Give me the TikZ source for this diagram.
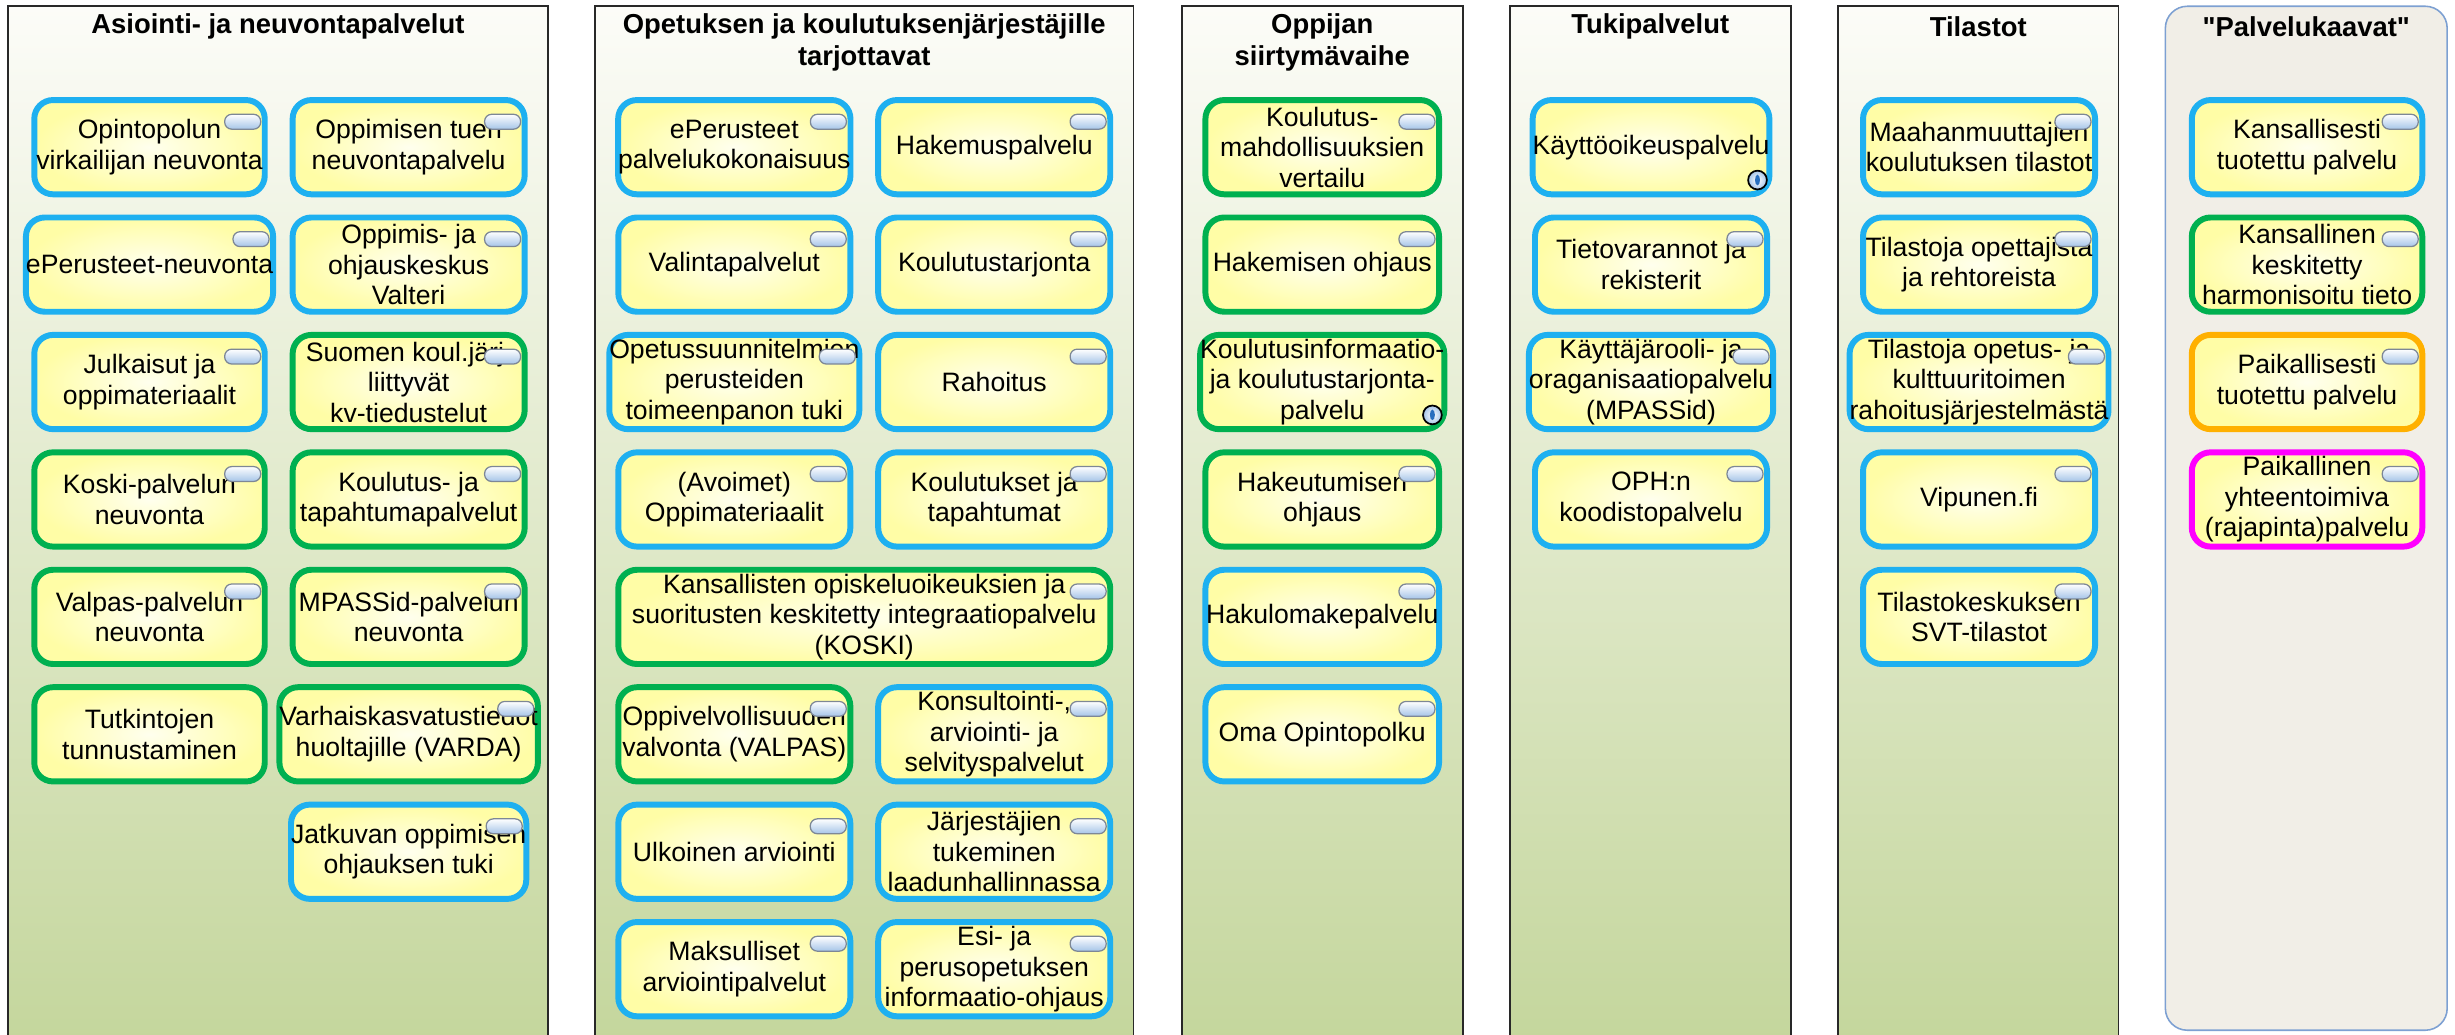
\documentclass[tikz,border=0pt]{standalone}
\usepackage{fontspec}
\setmainfont{Liberation Sans}
\newfontfamily\nolig{Liberation Sans}[Ligatures=TeXOff]
\definecolor{cblue}{RGB}{30,176,240}
\definecolor{cgreen}{RGB}{0,176,80}
\definecolor{corange}{RGB}{255,176,0}
\definecolor{cmag}{RGB}{255,0,255}
\definecolor{boxin}{RGB}{255,255,238}
\definecolor{boxout}{RGB}{255,253,166}
\definecolor{paneltop}{RGB}{252,252,248}
\definecolor{panelbot}{RGB}{196,214,156}
\definecolor{panelline}{RGB}{40,40,40}
\definecolor{legfill}{RGB}{241,238,231}
\definecolor{legline}{RGB}{125,160,210}
\definecolor{pillline}{RGB}{125,135,150}
\definecolor{pillbot}{RGB}{165,196,232}
\definecolor{infoblue}{RGB}{40,110,190}
\tikzset{
  panel/.style={draw=panelline, line width=1.1pt, top color=paneltop, bottom color=panelbot},
  legendpanel/.style={draw=legline, line width=1pt, fill=legfill, rounded corners=14pt},
  paneltitle/.style={font=\fontsize{17.5}{20.5}\selectfont\bfseries, align=center, inner sep=0pt},
  svc/.style={rounded corners=12pt, line width=3.8pt, inner sep=0pt, align=center,
    font=\fontsize{17}{19.5}\selectfont, inner color=boxin, outer color=boxout},
  pillst/.style={draw=pillline, line width=0.8pt, rounded corners=4.5pt, top color=white, bottom color=pillbot},
  infost/.style={draw=black, line width=1.1pt, inner color=white, outer color=pillbot}
}
% name, centre x, top y, width, colour, text
\newcommand\svc[6]{\node[svc, draw=#5, minimum width=#4pt-3.8pt, minimum height=60.2pt] (#1) at (#2,#3+32) {#6};}
\newcommand\pill[1]{\draw[pillst] ([xshift=-27.5pt,yshift=-11pt]#1.north east) rectangle ++(23,9.5);}
\newcommand\info[1]{\draw[infost] ([xshift=-9.5pt,yshift=11pt]#1.south east) circle (6pt);
  \fill[infoblue] ([xshift=-9.5pt,yshift=11pt]#1.south east) ellipse (1.6pt and 3.4pt);}
\begin{document}
\begin{tikzpicture}[x=1pt,y=-1pt]
\useasboundingbox (0,0) rectangle (1568,661);
\clip (0,0) rectangle (1568,661);
\fill[white] (0,0) rectangle (1568,661);
% panels
\draw[panel] (5,4) rectangle (350,668);
\draw[panel] (380,4) rectangle (724,668);
\draw[panel] (755,4) rectangle (934.5,668);
\draw[panel] (964.5,4) rectangle (1144,668);
\draw[panel] (1174,4) rectangle (1353,668);
\draw[legendpanel] (1383,4) rectangle (1563,658);
% titles
\node[paneltitle] (t1) at (177.5,17) {Asiointi- ja neuvontapalvelut};
\node[paneltitle] (t2) at (552,27) {Opetuksen ja koulutuksenjärjestäjille\\tarjottavat};
\node[paneltitle] (t3) at (844.5,27) {Oppijan\\siirtymävaihe};
\node[paneltitle] (t4) at (1054,17) {Tukipalvelut};
\node[paneltitle] (t5) at (1263.5,17) {Tilastot};
\node[paneltitle] (t6) at (1473,17) {\nolig "Palvelukaavat"};
% panel 1
\svc{aa1}{95.5}{62}{151}{cblue}{Opintopolun\\virkailijan neuvonta}
\svc{ab1}{261}{62}{152}{cblue}{Oppimisen tuen\\neuvontapalvelu}
\svc{aa2}{95.5}{137}{151}{cblue}{ePerusteet-neuvonta}
\svc{ab2}{261}{137}{152}{cblue}{Oppimis- ja\\ohjauskeskus\\Valteri}
\svc{aa3}{95.5}{212}{151}{cblue}{Julkaisut ja\\oppimateriaalit}
\svc{ab3}{261}{212}{152}{cgreen}{Suomen koul.järj.\\liittyvät\\kv-tiedustelut}
\svc{aa4}{95.5}{287}{151}{cgreen}{Koski-palvelun\\neuvonta}
\svc{ab4}{261}{287}{152}{cgreen}{Koulutus- ja\\tapahtumapalvelut}
\svc{aa5}{95.5}{362}{151}{cgreen}{Valpas-palvelun\\neuvonta}
\svc{ab5}{261}{362}{152}{cgreen}{MPASSid-palvelun\\neuvonta}
\svc{aa6}{95.5}{437}{151}{cgreen}{Tutkintojen\\tunnustaminen}
\svc{ab6}{261}{437}{152}{cgreen}{Varhaiskasvatustiedot\\huoltajille (VARDA)}
\svc{ab7}{261}{512}{152}{cblue}{Jatkuvan oppimisen\\ohjauksen tuki}
\pill{aa1}\pill{ab1}\pill{aa2}\pill{ab2}\pill{aa3}\pill{ab3}\pill{aa4}\pill{ab4}
\pill{aa5}\pill{ab5}\pill{ab6}\pill{ab7}
% panel 2
\svc{ba1}{469}{62}{152}{cblue}{ePerusteet\\palvelukokonaisuus}
\svc{bb1}{635}{62}{152}{cblue}{Hakemuspalvelu}
\svc{ba2}{469}{137}{152}{cblue}{Valintapalvelut}
\svc{bb2}{635}{137}{152}{cblue}{Koulutustarjonta}
\svc{ba3}{469}{212}{152}{cblue}{Opetussuunnitelmien\\perusteiden\\toimeenpanon tuki}
\svc{bb3}{635}{212}{152}{cblue}{Rahoitus}
\svc{ba4}{469}{287}{152}{cblue}{(Avoimet)\\Oppimateriaalit}
\svc{bb4}{635}{287}{152}{cblue}{Koulutukset ja\\tapahtumat}
\svc{bw5}{552}{362}{318}{cgreen}{Kansallisten opiskeluoikeuksien ja\\suoritusten keskitetty integraatiopalvelu\\(KOSKI)}
\svc{ba6}{469}{437}{152}{cgreen}{Oppivelvollisuuden\\valvonta (VALPAS)}
\svc{bb6}{635}{437}{152}{cblue}{Konsultointi-,\\arviointi- ja\\selvityspalvelut}
\svc{ba7}{469}{512}{152}{cblue}{Ulkoinen arviointi}
\svc{bb7}{635}{512}{152}{cblue}{Järjestäjien\\tukeminen\\laadunhallinnassa}
\svc{ba8}{469}{587}{152}{cblue}{Maksulliset\\arviointipalvelut}
\svc{bb8}{635}{587}{152}{cblue}{Esi- ja\\perusopetuksen\\informaatio-ohjaus}
\pill{ba1}\pill{bb1}\pill{ba2}\pill{bb2}\pill{ba3}\pill{bb3}\pill{ba4}\pill{bb4}
\pill{bw5}\pill{ba6}\pill{bb6}\pill{ba7}\pill{bb7}\pill{ba8}\pill{bb8}
% panel 3
\svc{c1}{844.5}{62}{153}{cgreen}{Koulutus-\\mahdollisuuksien\\vertailu}
\svc{c2}{844.5}{137}{153}{cgreen}{Hakemisen ohjaus}
\svc{c3}{844.5}{212}{153}{cgreen}{Koulutusinformaatio-\\ja koulutustarjonta-\\palvelu}
\svc{c4}{844.5}{287}{153}{cgreen}{Hakeutumisen\\ohjaus}
\svc{c5}{844.5}{362}{153}{cblue}{Hakulomakepalvelu}
\svc{c6}{844.5}{437}{153}{cblue}{Oma Opintopolku}
\pill{c1}\pill{c2}\info{c3}\pill{c4}\pill{c5}\pill{c6}
% panel 4
\svc{d1}{1054.5}{62}{152}{cblue}{Käyttöoikeuspalvelu}
\svc{d2}{1054.5}{137}{152}{cblue}{Tietovarannot ja\\rekisterit}
\svc{d3}{1054.5}{212}{152}{cblue}{Käyttäjärooli- ja\\oraganisaatiopalvelu\\(MPASSid)}
\svc{d4}{1054.5}{287}{152}{cblue}{OPH:n\\koodistopalvelu}
\info{d1}\pill{d2}\pill{d3}\pill{d4}
% panel 5
\svc{e1}{1264}{62}{152}{cblue}{Maahanmuuttajien\\koulutuksen tilastot}
\svc{e2}{1264}{137}{152}{cblue}{Tilastoja opettajista\\ja rehtoreista}
\svc{e3}{1264}{212}{152}{cblue}{Tilastoja opetus- ja\\kulttuuritoimen\\rahoitusjärjestelmästä}
\svc{e4}{1264}{287}{152}{cblue}{Vipunen.fi}
\svc{e5}{1264}{362}{152}{cblue}{Tilastokeskuksen\\SVT-tilastot}
\pill{e1}\pill{e2}\pill{e3}\pill{e4}\pill{e5}
% panel 6
\svc{f1}{1473.5}{62}{151}{cblue}{Kansallisesti\\tuotettu palvelu}
\svc{f2}{1473.5}{137}{151}{cgreen}{Kansallinen\\keskitetty\\harmonisoitu tieto}
\svc{f3}{1473.5}{212}{151}{corange}{Paikallisesti\\tuotettu palvelu}
\svc{f4}{1473.5}{287}{151}{cmag}{Paikallinen\\yhteentoimiva\\(rajapinta)palvelu}
\pill{f1}\pill{f2}\pill{f3}\pill{f4}
\end{tikzpicture}
\end{document}
